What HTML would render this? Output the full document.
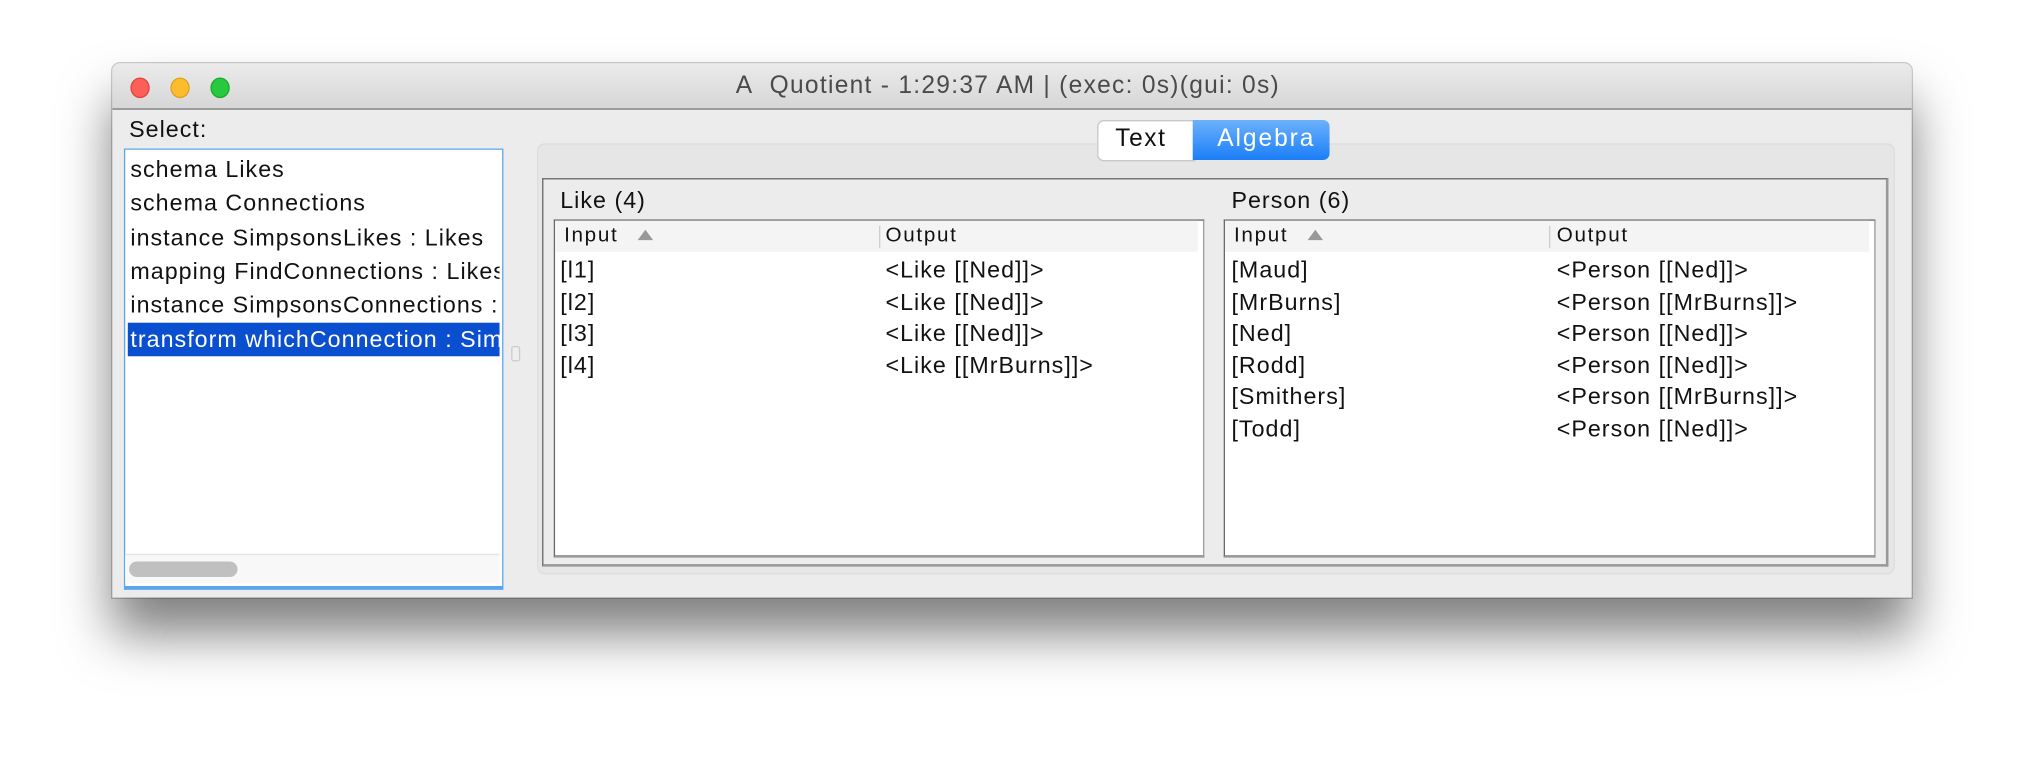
<!DOCTYPE html>
<html><head><meta charset="utf-8"><style>
html,body{margin:0;padding:0;background:#fff;width:2024px;height:760px;overflow:hidden}
#s{position:absolute;left:0;top:0;width:1568px;height:589px;transform:scale(1.290816);transform-origin:0 0;font-family:"Liberation Sans",sans-serif;color:#111}
.a{position:absolute}
.t{position:absolute;font-size:18px;letter-spacing:0.8px;white-space:nowrap;line-height:20px}
.h{position:absolute;font-size:16px;letter-spacing:1.3px;white-space:nowrap;line-height:18px}
</style></head><body><div id="s">
<div class="a" style="left:87px;top:49px;width:1394px;height:414px;background:#ececec;border-radius:6px 6px 0 0;box-shadow:0 28px 40px rgba(0,0,0,.5),0 0 0 1px rgba(0,0,0,.2)"></div>
<div class="a" style="left:87px;top:49px;width:1394px;height:35px;background:linear-gradient(#ebebeb,#d6d6d6);border-radius:6px 6px 0 0;border-bottom:1px solid #666"></div>
<div class="a" style="left:101px;top:60px;width:13px;height:14px;border-radius:50%;background:#fc5f57;border:0.5px solid #e0443e"></div>
<div class="a" style="left:132px;top:60px;width:13px;height:14px;border-radius:50%;background:#fdbc2e;border:0.5px solid #dea123"></div>
<div class="a" style="left:163px;top:60px;width:13px;height:14px;border-radius:50%;background:#28c840;border:0.5px solid #1aab29"></div>
<div class="t" style="left:570px;top:57px;color:#4a4a4a;font-size:19px;letter-spacing:1px">A&nbsp; Quotient - 1:29:37 AM | (exec: 0s)(gui: 0s)</div>
<div class="t" style="left:100px;top:90px">Select:</div>
<div class="a" style="left:96px;top:115px;width:292px;height:338px;background:#fff;border:1px solid #5aa5ec;border-bottom:3px solid #5aa5ec"></div>
<div class="a" style="left:99px;top:250px;width:288px;height:26px;background:#0b4fd1"></div>
<div class="t" style="left:101px;top:121px">schema Likes</div>
<div class="t" style="left:101px;top:147px">schema Connections</div>
<div class="t" style="left:101px;top:174px">instance SimpsonsLikes : Likes</div>
<div class="a" style="left:99px;top:198px;width:288px;height:26px;overflow:hidden"><div class="t" style="left:2px;top:2px">mapping FindConnections : Likes</div></div>
<div class="a" style="left:99px;top:224px;width:288px;height:26px;overflow:hidden"><div class="t" style="left:2px;top:2px">instance SimpsonsConnections : Conn</div></div>
<div class="a" style="left:99px;top:250px;width:288px;height:26px;overflow:hidden"><div class="t" style="left:2px;top:3px;color:#fff">transform whichConnection : SimpsonsLikes</div></div>
<div class="a" style="left:97px;top:429px;width:290px;height:22px;background:#f8f8f8;border-top:1px solid #e4e4e4"></div>
<div class="a" style="left:100px;top:435px;width:84px;height:12px;border-radius:6px;background:#c0c0c0"></div>
<div class="a" style="left:396px;top:268px;width:5px;height:10px;border:1px solid #ccc;border-radius:2px;background:#eee"></div>
<div class="a" style="left:416px;top:111px;width:1050px;height:332px;background:#e6e6e6;border-radius:6px;border:1px solid #ddd"></div>
<div class="a" style="left:420px;top:138px;width:1040px;height:298px;background:#ececec;border:1px solid #666;border-bottom:2px solid #999;border-right:2px solid #999"></div>
<div class="a" style="left:850px;top:93px;width:74px;height:30px;background:#fff;border:1px solid #c8c8c8;border-radius:5px 0 0 5px"></div>
<div class="a" style="left:924px;top:93px;width:106px;height:31px;background:linear-gradient(#6cb1fb,#1a7ef8);border-radius:0 5px 5px 0"></div>
<div class="t" style="left:864px;top:98px;font-size:19px;letter-spacing:1.2px">Text</div>
<div class="t" style="left:943px;top:98px;font-size:19px;letter-spacing:1.5px;color:#fff">Algebra</div>
<div class="t" style="left:434px;top:145px">Like (4)</div>
<div class="t" style="left:954px;top:145px">Person (6)</div>
<div class="a" style="left:429px;top:170px;width:502px;height:259px;background:#fff;border:1px solid #666;border-bottom:2px solid #999;border-right:1px solid #999"></div>
<div class="a" style="left:430px;top:171px;width:498px;height:24px;background:#f4f4f4"></div>
<div class="a" style="left:681px;top:175px;width:1px;height:17px;background:#ccc"></div>
<div class="h" style="left:437px;top:174px">Input</div>
<div class="a" style="left:494px;top:178px;width:0;height:0;border-left:6px solid transparent;border-right:6px solid transparent;border-bottom:8px solid #999"></div>
<div class="h" style="left:686px;top:174px">Output</div>
<div class="t" style="left:434px;top:199px">[l1]</div><div class="t" style="left:686px;top:199px">&lt;Like [[Ned]]&gt;</div>
<div class="t" style="left:434px;top:224px">[l2]</div><div class="t" style="left:686px;top:224px">&lt;Like [[Ned]]&gt;</div>
<div class="t" style="left:434px;top:248px">[l3]</div><div class="t" style="left:686px;top:248px">&lt;Like [[Ned]]&gt;</div>
<div class="t" style="left:434px;top:273px">[l4]</div><div class="t" style="left:686px;top:273px">&lt;Like [[MrBurns]]&gt;</div>
<div class="a" style="left:948px;top:170px;width:503px;height:259px;background:#fff;border:1px solid #666;border-bottom:2px solid #999;border-right:1px solid #999"></div>
<div class="a" style="left:949px;top:171px;width:499px;height:24px;background:#f4f4f4"></div>
<div class="a" style="left:1200px;top:175px;width:1px;height:17px;background:#ccc"></div>
<div class="h" style="left:956px;top:174px">Input</div>
<div class="a" style="left:1013px;top:178px;width:0;height:0;border-left:6px solid transparent;border-right:6px solid transparent;border-bottom:8px solid #999"></div>
<div class="h" style="left:1206px;top:174px">Output</div>
<div class="t" style="left:954px;top:199px">[Maud]</div><div class="t" style="left:1206px;top:199px">&lt;Person [[Ned]]&gt;</div>
<div class="t" style="left:954px;top:224px">[MrBurns]</div><div class="t" style="left:1206px;top:224px">&lt;Person [[MrBurns]]&gt;</div>
<div class="t" style="left:954px;top:248px">[Ned]</div><div class="t" style="left:1206px;top:248px">&lt;Person [[Ned]]&gt;</div>
<div class="t" style="left:954px;top:273px">[Rodd]</div><div class="t" style="left:1206px;top:273px">&lt;Person [[Ned]]&gt;</div>
<div class="t" style="left:954px;top:297px">[Smithers]</div><div class="t" style="left:1206px;top:297px">&lt;Person [[MrBurns]]&gt;</div>
<div class="t" style="left:954px;top:322px">[Todd]</div><div class="t" style="left:1206px;top:322px">&lt;Person [[Ned]]&gt;</div>
</div></body></html>
